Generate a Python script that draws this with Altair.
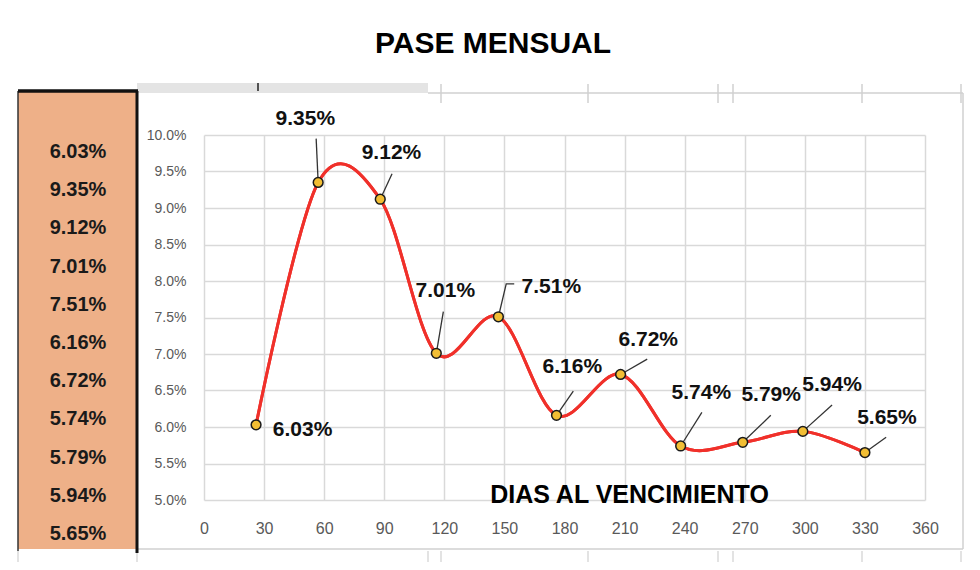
import altair as alt
import pandas as pd

# ---- data ----
dias = [26, 57, 88, 116, 147, 176, 208, 238, 269, 299, 330]
pase = [6.03, 9.35, 9.12, 7.01, 7.51, 6.16, 6.72, 5.74, 5.79, 5.94, 5.65]

# label anchor positions (data units: days, percent)
label_x = [49.2, 50.6, 93.6, 120.5, 173.4, 183.9, 221.8, 248.3, 283.2, 313.6, 341.0]
label_y = [5.96, 10.22, 9.75, 7.86, 7.92, 6.82, 7.19, 6.47, 6.44, 6.58, 6.12]
# leader line starting points (data units), None = no leader
leader_x = [None, 56.0, 93.9, 119.5, 154.9, 184.4, 221.3, 248.6, 283.0, 313.6, 340.6]
leader_y = [None, 9.95, 9.47, 7.58, 7.96, 6.49, 6.93, 6.20, 6.16, 6.30, 5.86]
elbow_x = [None, None, None, None, 150.9, None, None, None, None, None, None]

x_ticks = list(range(0, 361, 30))
y_ticks = [5.0, 5.5, 6.0, 6.5, 7.0, 7.5, 8.0, 8.5, 9.0, 9.5, 10.0]

TITLE = "PASE MENSUAL"
X_TITLE = "DIAS AL VENCIMIENTO"

# ---- layout ----
PL, PT, PR, PB = 204, 135, 55, 70
W, H = 980 - PL - PR, 570 - PT - PB
FONT = "Liberation Sans, Arial, sans-serif"
GRID = "#D9D9D9"
RED = "#F0302A"
ORANGE = "#EEB088"

df = pd.DataFrame({"x": dias, "y": pase})
df["label"] = [f"{v:.2f}%" for v in pase]
df["row"] = list(range(len(pase)))

lab = pd.DataFrame({"x": label_x, "y": label_y, "label": df["label"]})

rows = []
for i in range(len(dias)):
    if leader_x[i] is None:
        continue
    pts = [(leader_x[i], leader_y[i])]
    if elbow_x[i] is not None:
        pts.append((elbow_x[i], leader_y[i]))
    pts.append((dias[i], pase[i]))
    for k, (a, b) in enumerate(pts):
        rows.append({"id": i, "k": k, "x": a, "y": b})
lead = pd.DataFrame(rows)

one = pd.DataFrame({"a": [0]})

xs = alt.Scale(domain=[0, 360], nice=False, zero=False)
ys = alt.Scale(domain=[5, 10], nice=False, zero=False)


def seg(x1, y1, x2, y2, color, w):
    return alt.Chart(one).mark_rule(color=color, strokeWidth=w).encode(
        x=alt.value(x1 - PL), x2=alt.value(x2 - PL),
        y=alt.value(y1 - PT), y2=alt.value(y2 - PT))


def box(x1, y1, x2, y2, color):
    return alt.Chart(one).mark_rect(color=color, opacity=1).encode(
        x=alt.value(x1 - PL), x2=alt.value(x2 - PL),
        y=alt.value(y1 - PT), y2=alt.value(y2 - PT))


deco = [
    box(18, 91, 137, 549, ORANGE),
    box(137, 83, 428, 93, "#E4E4E4"),
    seg(258, 83, 258, 91, "#222222", 1.5),
    seg(428, 93, 963, 93, "#D0D0D0", 1.5),
    seg(963, 93, 963, 549, "#D0D0D0", 1.5),
    seg(137, 549, 963, 549, "#D0D0D0", 1.5),
]
for tx in [441, 588, 718, 733, 862, 961]:
    deco.append(seg(tx, 84, tx, 103, "#D0D0D0", 1.5))
for tx in [18, 137, 428, 441, 588, 718, 733, 862, 961]:
    deco.append(seg(tx, 551, tx, 562, "#D0D0D0", 1.2))
deco += [
    seg(18, 91, 18, 551, "#333333", 1.5),
    seg(18, 91, 138, 91, "#111111", 3.5),
    seg(137, 91, 137, 553, "#111111", 3),
]

panel = alt.Chart(df).mark_text(
    font=FONT, fontSize=20, fontWeight="bold", color="#1a1a1a",
    align="center", baseline="middle"
).transform_calculate(py="17 + 38.2*datum.row").encode(
    x=alt.value(78 - PL),
    y=alt.Y("py:Q", scale=None, axis=None),
    text="label:N")

title = alt.Chart(one).mark_text(
    text=TITLE, font=FONT, fontSize=30, fontWeight="bold", color="black",
    align="center", baseline="middle"
).encode(x=alt.value(493 - PL), y=alt.value(44 - PT))

line = alt.Chart(df).mark_line(
    color=RED, strokeWidth=3, interpolate="cardinal", tension=0
).encode(
    x=alt.X("x:Q", scale=xs, axis=alt.Axis(
        values=x_ticks, tickCount=len(x_ticks) + 1, grid=True, gridColor=GRID,
        gridWidth=1.5, domain=False, ticks=False, labelFlush=False,
        labelOverlap=False,
        labelFont=FONT, labelFontSize=16, labelColor="#595959", labelPadding=20,
        title=X_TITLE, titleFont=FONT, titleFontSize=25, titleFontWeight="bold",
        titleColor="black", titleX=425, titleY=-6, titleAlign="center",
        titleBaseline="middle")),
    y=alt.Y("y:Q", scale=ys, axis=alt.Axis(
        values=y_ticks, tickCount=len(y_ticks) + 1, grid=True, gridColor=GRID,
        gridWidth=1.5, domain=False, ticks=False, labelOverlap=False,
        labelExpr="format(datum.value, '.1f') + '%'",
        labelFont=FONT, labelFontSize=14, labelColor="#595959", labelPadding=18,
        title=None)),
)

leaders = alt.Chart(lead).mark_line(color="#333333", strokeWidth=1.3).encode(
    x=alt.X("x:Q", scale=xs), y=alt.Y("y:Q", scale=ys),
    detail="id:N", order="k:Q")

points = alt.Chart(df).mark_circle(
    color="#F2BE34", stroke="#1a1a1a", strokeWidth=1.5, size=95, opacity=1
).encode(x=alt.X("x:Q", scale=xs), y=alt.Y("y:Q", scale=ys))

labels = alt.Chart(lab).mark_text(
    font=FONT, fontSize=21, fontWeight="bold", color="#111111",
    align="center", baseline="middle"
).encode(x=alt.X("x:Q", scale=xs), y=alt.Y("y:Q", scale=ys), text="label:N")

chart = alt.layer(
    line, *deco, panel, title, leaders, line, points, labels
).properties(
    width=W, height=H,
    autosize=alt.AutoSizeParams(type="none"),
    padding={"left": PL, "top": PT, "right": PR, "bottom": PB},
    background="white",
).configure_view(stroke=None)

chart.save("out.html", embed_options={"renderer": "svg", "actions": False})
